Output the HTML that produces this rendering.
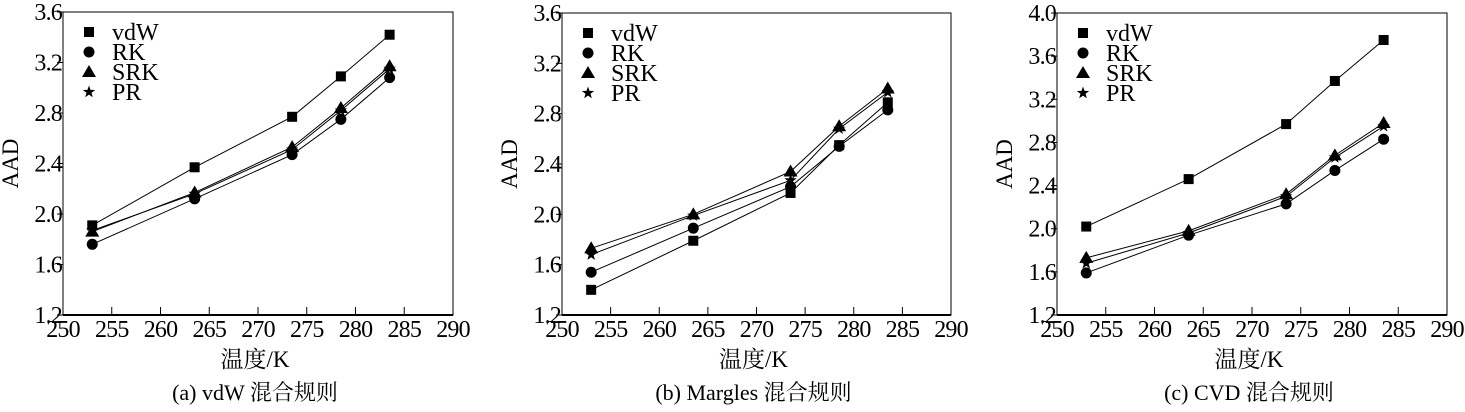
<!DOCTYPE html>
<html><head><meta charset="utf-8"><style>
body{margin:0;background:#fff;width:1465px;height:407px;overflow:hidden}
svg text{font-family:"Liberation Serif","Noto Serif CJK SC",serif;fill:#000}
</style></head><body>
<svg id="chart" width="1465" height="407" xmlns="http://www.w3.org/2000/svg"></svg>
<script>
const temps = [253, 263.5, 273.5, 278.5, 283.5];
const seriesNames = ["vdW", "RK", "SRK", "PR"];
const xTicks = [250, 255, 260, 265, 270, 275, 280, 285, 290];
const yTicksAB = [1.2, 1.6, 2.0, 2.4, 2.8, 3.2, 3.6];
const yTicksC = [1.2, 1.6, 2.0, 2.4, 2.8, 3.2, 3.6, 4.0];
const aVdw = [1.91, 2.37, 2.77, 3.09, 3.42];
const aRk = [1.76, 2.12, 2.47, 2.75, 3.08];
const aSrk = [1.86, 2.17, 2.53, 2.84, 3.17];
const aPr = [1.87, 2.16, 2.51, 2.82, 3.15];
const bVdw = [1.40, 1.79, 2.17, 2.55, 2.89];
const bRk = [1.54, 1.89, 2.22, 2.54, 2.83];
const bSrk = [1.73, 2.00, 2.34, 2.70, 3.00];
const bPr = [1.68, 1.99, 2.27, 2.68, 2.97];
const cVdw = [2.02, 2.46, 2.97, 3.37, 3.75];
const cRk = [1.59, 1.94, 2.23, 2.54, 2.83];
const cSrk = [1.73, 1.98, 2.32, 2.68, 2.98];
const cPr = [1.68, 1.96, 2.30, 2.66, 2.95];

const NS = "http://www.w3.org/2000/svg";
const svg = document.getElementById("chart");
function mk(tag, attrs, parent){const e=document.createElementNS(NS,tag);for(const k in attrs)e.setAttribute(k,attrs[k]);(parent||svg).appendChild(e);return e;}

function marker(g, kind, x, y){
  let e;
  if(kind==="vdW") e=mk("rect",{x:x-5,y:y-5,width:10,height:10,fill:"#000"},g);
  else if(kind==="RK") e=mk("circle",{cx:x,cy:y,r:5.5,fill:"#000"},g);
  else if(kind==="SRK") e=mk("polygon",{points:`${x},${y-7} ${x+7},${y+5} ${x-7},${y+5}`,fill:"#000"},g);
  else {
    let p=[];for(let i=0;i<10;i++){const r=i%2?2.6:6.5;const a=-Math.PI/2+i*Math.PI/5;p.push((x+r*Math.cos(a)).toFixed(1)+","+(y+r*Math.sin(a)).toFixed(1));}
    e=mk("polygon",{points:p.join(" "),fill:"#000"},g);
  }
  return e;
}

function panel(id, L, R, T, B, yTicks, data, caption){
  const g = mk("g",{});
  
  
  const y0=yTicks[0], y1=yTicks[yTicks.length-1];
  const sx=v=>L+(v-250)/(290-250)*(R-L);
  const sy=v=>B-(v-y0)/(y1-y0)*(B-T);
  const frame=mk("rect",{x:L,y:T,width:R-L,height:B-T,fill:"none",stroke:"#000","stroke-width":1},g);
  
  
  mk("line",{x1:L,y1:B,x2:R,y2:B,stroke:"#000","stroke-width":2},g);
  xTicks.forEach(t=>{
    mk("line",{x1:sx(t),y1:B,x2:sx(t),y2:B-8,stroke:"#000"},g);
    const tx=mk("text",{x:sx(t),y:B+22,"text-anchor":"middle","font-size":24,"letter-spacing":"-0.8"},g);
    tx.textContent=t;
    
    
  });
  yTicks.forEach(t=>{
    mk("line",{x1:L,y1:sy(t),x2:L-6,y2:sy(t),stroke:"#000"},g);
    const tx=mk("text",{x:L-1,y:sy(t)+8,"text-anchor":"end","font-size":24,"letter-spacing":"-0.8"},g);
    tx.textContent=t.toFixed(1);
    
    
  });
  const yl=mk("text",{x:0,y:0,"text-anchor":"middle","font-size":23,transform:`translate(${L-45},${(T+B)/2}) rotate(-90)`},g);
  yl.textContent="AAD";
  
  
  const xl=mk("text",{x:(L+R)/2-3,y:367,"text-anchor":"middle","font-size":23},g);
  xl.textContent="温度/K";
  
  
  const cp=mk("text",{x:(L+R)/2-3,y:400,"text-anchor":"middle","font-size":22},g);
  cp.textContent=caption;
  
  
  data.forEach((vals,si)=>{
    const name=seriesNames[si];
    const ln=mk("polyline",{points:vals.map((v,i)=>sx(temps[i])+","+sy(v)).join(" "),fill:"none",stroke:"#000","stroke-width":1},g);
    
    
    vals.forEach((v,i)=>{
      const m=marker(g,name,sx(temps[i]),sy(v));
      
      
    });
    const ly=T+20+si*20;
    const lm=marker(g,name,L+26,ly);
    
    
    const lt=mk("text",{x:L+49,y:ly+8,"font-size":24},g);
    lt.textContent=name;
    
    
  });
}
panel("panel-a",63,453,12,315,yTicksAB,[aVdw,aRk,aSrk,aPr],"(a) vdW 混合规则");
panel("panel-b",562,951,13,315,yTicksAB,[bVdw,bRk,bSrk,bPr],"(b) Margles 混合规则");
panel("panel-c",1057,1447,13,315,yTicksC,[cVdw,cRk,cSrk,cPr],"(c) CVD 混合规则");
</script>
</body></html>
